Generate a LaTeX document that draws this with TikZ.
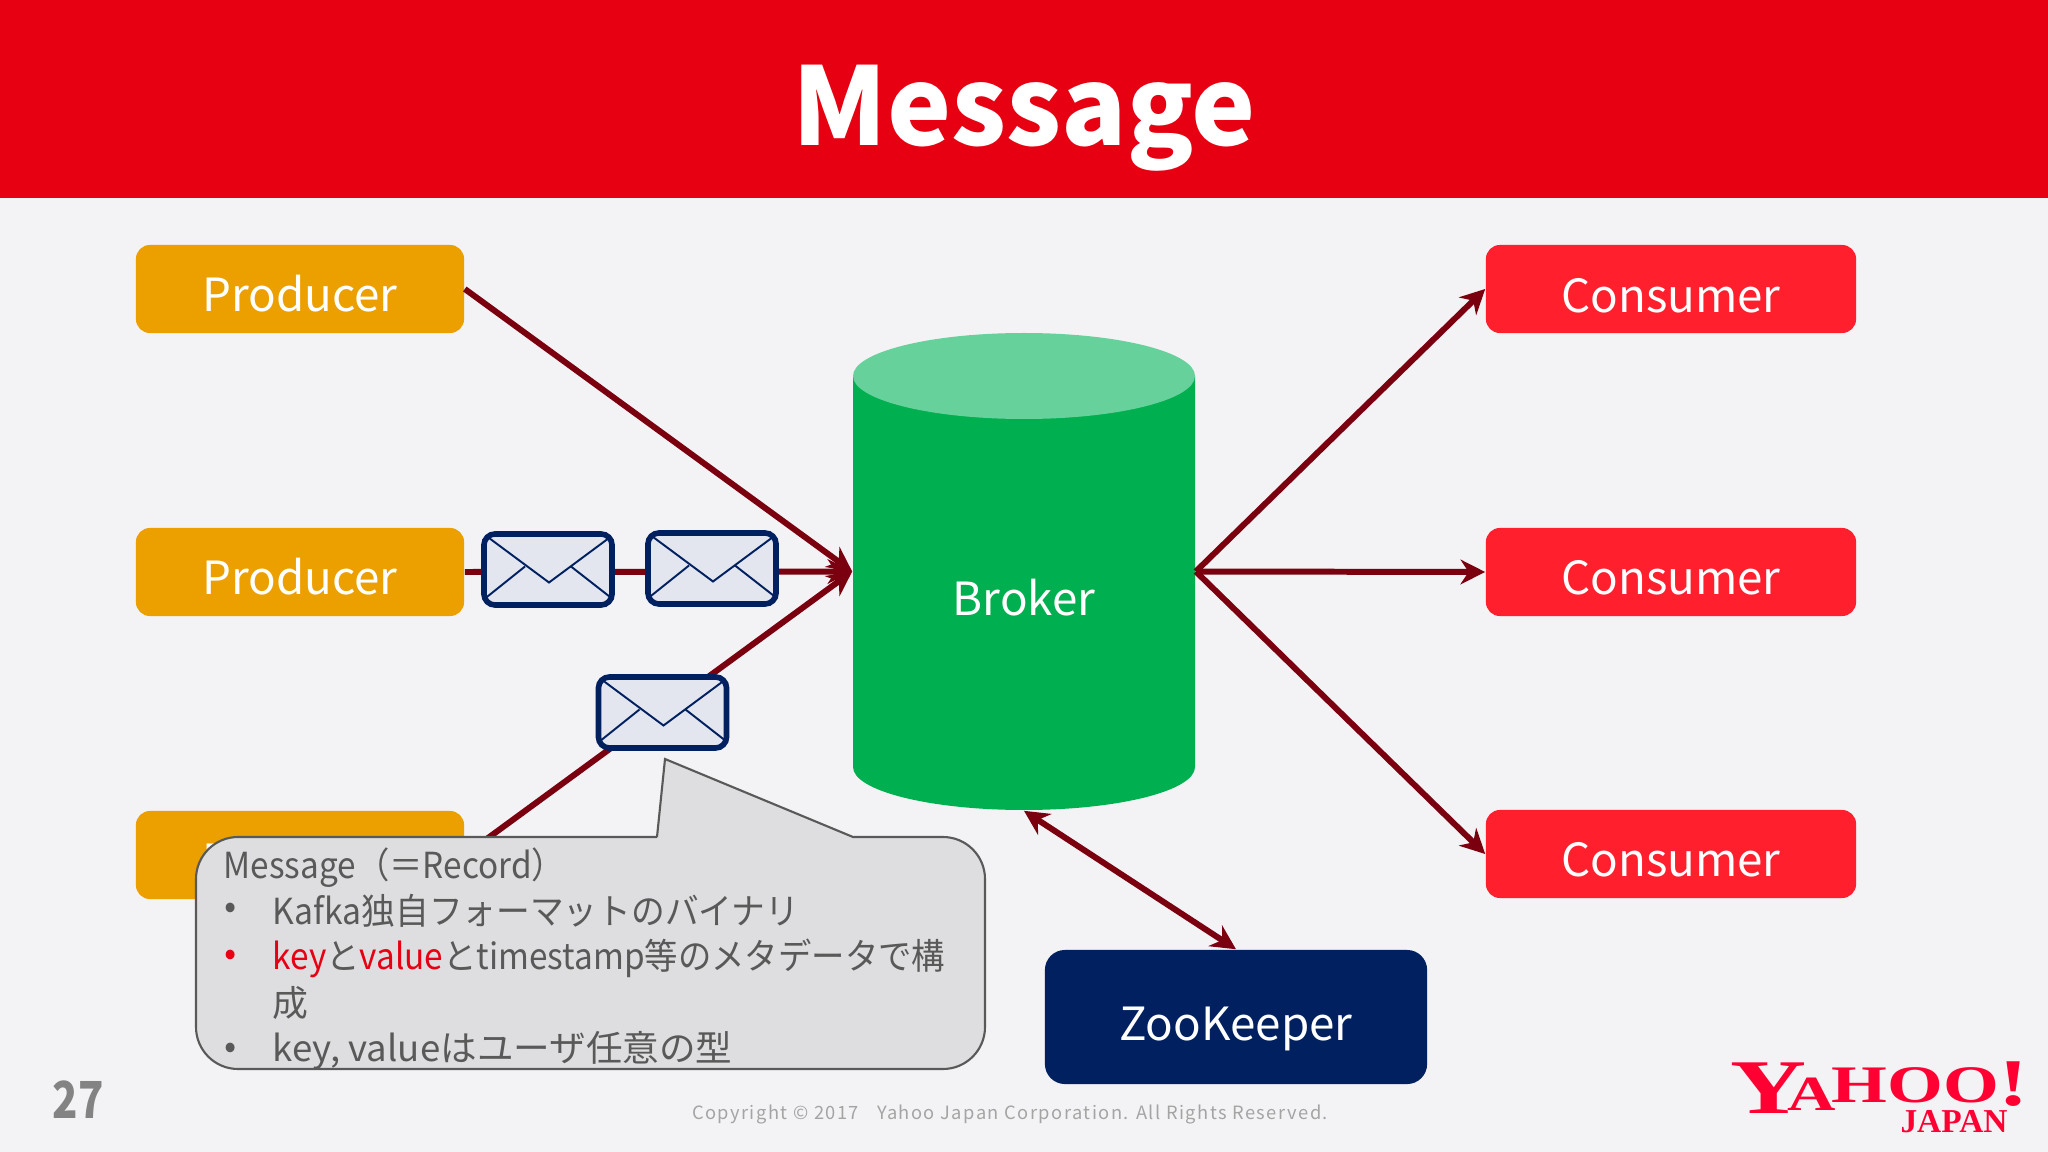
\documentclass[tikz,border=0pt]{standalone}
\usepackage{fontspec}
\setmainfont{Noto Sans CJK JP}
\newfontfamily\logofont{Liberation Serif}
\newfontfamily\footfont[LetterSpace=8]{Noto Sans CJK JP}
\usetikzlibrary{arrows.meta}

\definecolor{bgcol}{HTML}{F3F2F4}
\definecolor{headcol}{HTML}{E60012}
\definecolor{prodcol}{HTML}{EBA000}
\definecolor{conscol}{HTML}{FF1F2D}
\definecolor{brokcol}{HTML}{00B050}
\definecolor{brokend}{HTML}{66D19A}
\definecolor{zoocol}{HTML}{002060}
\definecolor{edgecol}{HTML}{7A0010}
\definecolor{mailcol}{HTML}{E3E6EF}
\definecolor{notecol}{HTML}{DEDEE0}
\definecolor{textcol}{HTML}{595959}
\definecolor{logocol}{HTML}{FF0033}

\begin{document}
\begin{tikzpicture}[x=0.01cm,y=-0.01cm]

\tikzset{box/.style = {shape=rectangle,rounded corners=0.14cm,minimum width=3.28cm,minimum height=0.88cm,inner sep=0pt}}
\tikzset{producer/.style = {box,fill=prodcol}}
\tikzset{consumer/.style = {box,fill=conscol,minimum width=3.7cm}}
\tikzset{boxtext/.style = {text=white,font=\fontsize{13}{16}\selectfont}}
\tikzset{edge/.style = {draw=edgecol,line width=1.7pt,-{Stealth[length=7pt,width=7pt]}}}
\tikzset{mailbox/.style = {shape=rectangle,draw=zoocol,fill=mailcol,line width=1.6pt,rounded corners=0.11cm,minimum width=1.28cm,minimum height=0.71cm,inner sep=0pt}}
\tikzset{mailline/.style = {draw=zoocol,line width=0.55pt}}
\tikzset{notetext/.style = {anchor=west,inner sep=0pt,text=textcol,font=\fontsize{10.2}{12}\selectfont}}

%background
\fill[bgcol] (0,0) rectangle (2048,1152);
\fill[headcol] (0,0) rectangle (2048,198);
\node[text=white,font=\fontsize{30.7}{36}\selectfont\bfseries] (title) at (1024,118) {Message};
%verticies
\node[producer] (prod1) at (300,289) {};
\node[producer] (prod2) at (300,572) {};
\node[producer] (prod3) at (300,855) {};
\node[boxtext] (prodtext1) at (300,294) {Producer};
\node[boxtext] (prodtext2) at (300,577) {Producer};
\node[boxtext] (prodtext3) at (300,860) {Producer};
\node[consumer] (cons1) at (1671,289) {};
\node[consumer] (cons2) at (1671,572) {};
\node[consumer] (cons3) at (1671,854) {};
\node[boxtext] (constext1) at (1671,296) {Consumer};
\node[boxtext] (constext2) at (1671,578) {Consumer};
\node[boxtext] (constext3) at (1671,860) {Consumer};
\node[shape=rectangle,minimum width=3.42cm,minimum height=4.77cm,inner sep=0pt] (broker) at (1024,571.5) {};
\fill[brokcol] (853,376) -- (853,767) arc[start angle=180,end angle=360,x radius=171,y radius=-43] -- (1195,376) -- cycle;
\fill[brokend] (1024,376) ellipse[x radius=171,y radius=43];
\node[boxtext] (brokertext) at (1024,598) {Broker};
\node[box,fill=zoocol,minimum width=3.82cm,minimum height=1.34cm,rounded corners=0.2cm] (zoo) at (1236,1017) {};
\node[boxtext] (zootext) at (1236,1029) {ZooKeeper};
%edges
\draw [edge] (prod1.east) -- (broker.west);
\draw [edge] (prod2.east) -- (broker.west);
\draw [edge] (prod3.east) -- (broker.west);
\draw [edge] (broker.east) -- (cons1.west);
\draw [edge] (broker.east) -- (cons2.west);
\draw [edge] (broker.east) -- (cons3.west);
\draw [edge,{Stealth[length=7pt,width=7pt]}-{Stealth[length=7pt,width=7pt]}] (broker.south) -- (zoo.north);
%messages
\foreach \name/\px/\py in {mail1/548/569.5, mail2/712/568.5, mail3/662.5/712.5} {
  \node[mailbox] (\name) at (\px,\py) {};
  \draw[mailline] (\px-61,\py-33) -- (\px+1,\py+13) -- (\px+63,\py-33);
  \draw[mailline] (\px-63,\py+29) -- (\px-23,\py-3);
  \draw[mailline] (\px+64,\py+29) -- (\px+23,\py-3);
}
%note
\draw[draw=textcol,line width=0.6pt,fill=notecol] (657,837) -- (665,759) -- (853,837) [rounded corners=0.42cm] -- (985,837) -- (985,1069) -- (196,1069) -- (196,837) -- (657,837);
\node[notetext,xscale=0.93] (note0) at (223,868) {Message（＝Record）};
\node[notetext] (bullet1) at (224,911) {•};
\node[notetext,xscale=0.94] (note1) at (272,911) {Kafka独自フォーマットのバイナリ};
\node[notetext,text=headcol] (bullet2) at (224,958) {•};
\node[notetext,xscale=0.93] (note2) at (272,958) {\textcolor{headcol}{key}と\textcolor{headcol}{value}とtimestamp等のメタデータで構};
\node[notetext] (note3) at (272,1003) {成};
\node[notetext] (bullet4) at (224,1051) {•};
\node[notetext,xscale=1.02] (note4) at (272,1051) {key, valueはユーザ任意の型};
%footer
\node[text=textcol!75,font=\fontsize{14.5}{16}\selectfont\bfseries,xscale=0.82] (page) at (78,1100) {27};
\node[text=textcol!55,font=\footfont\fontsize{5.2}{7}\selectfont] (copy) at (1010,1115) {Copyright © 2017\quad Yahoo Japan Corporation. All Rights Reserved.};
\node[anchor=base west,text=logocol,font=\logofont\bfseries\fontsize{22}{24}\selectfont,xscale=1.36,inner sep=0pt] (logo) at (1730,1113) {Y\kern-4pt\raisebox{0.6pt}{\fontsize{14}{16}\selectfont A}\kern-1pt\raisebox{3pt}{\fontsize{15}{16}\selectfont HOO}\raisebox{2pt}{\fontsize{19}{21}\selectfont !}};
\node[text=logocol,font=\logofont\bfseries\fontsize{9.5}{11}\selectfont,inner sep=0pt] (logojp) at (1954,1122) {JAPAN};

\end{tikzpicture}
\end{document}
